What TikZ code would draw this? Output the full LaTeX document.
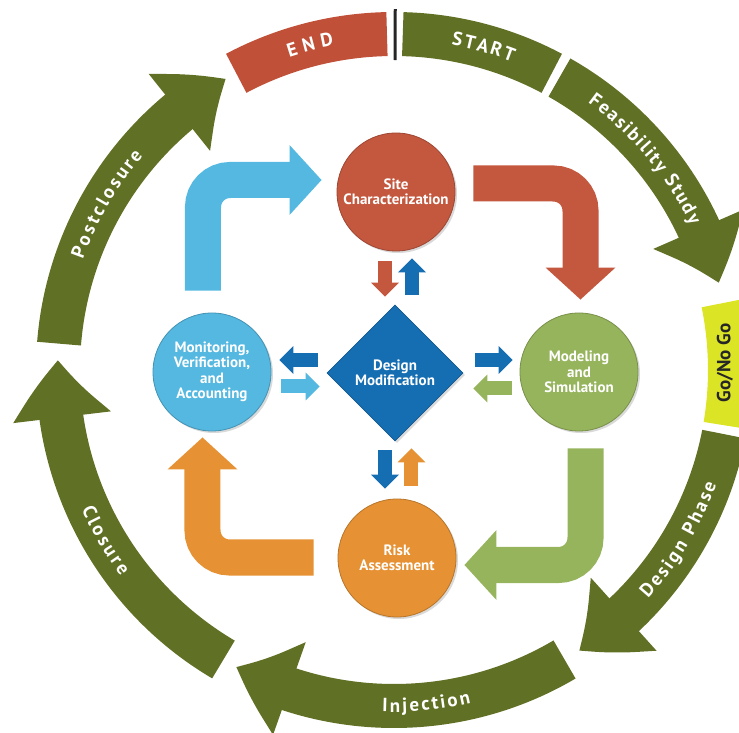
\documentclass[tikz,border=0pt]{standalone}
\usepackage{fontspec}
\setmainfont{PT Sans}
\usetikzlibrary{arrows.meta, bending, shapes.geometric, decorations.text, shadows}

\definecolor{ringgreen}{RGB}{96,112,36}
\definecolor{endred}{RGB}{192,80,56}
\definecolor{gonogoyellow}{RGB}{220,228,38}
\definecolor{sitered}{RGB}{196,88,62}
\definecolor{skyblue}{RGB}{84,184,224}
\definecolor{dmblue}{RGB}{22,110,178}
\definecolor{mossgreen}{RGB}{150,180,92}
\definecolor{riskorange}{RGB}{230,146,52}

% text along a piece of the ring: start angle, end angle, radius, text
\newcommand\ringtext[4]{%
  \path[decorate, decoration={text along path, text color=white,
    text align={fit to path},
    text={|\fontsize{19}{19}\selectfont\bfseries|#4}}]
    (#1:#3) arc[start angle=#1, end angle=#2, radius=#3];}

\begin{document}
\begin{tikzpicture}[x=1pt, y=1pt,
    stage/.style={circle, minimum size=118pt, inner sep=0pt, fill=#1, draw=#1!80!black,
      line width=0.8pt, text=white, align=center,
      font=\fontsize{15}{15.5}\selectfont\bfseries,
      drop shadow={opacity=0.3, shadow xshift=2pt, shadow yshift=-2pt}},
    ringband/.style={line width=44pt, draw=#1},
    ringarrow/.style={ringband=ringgreen, -{Triangle[length=58pt, width=94pt, bend]}},
    bigarrow/.style={line width=36pt, draw=#1, rounded corners=27pt,
      -{Triangle[length=32pt, width=68pt]}},
    smallarrow/.style={line width=14pt, draw=#1, -{Triangle[length=14pt, width=27pt]}}]

    \useasboundingbox (-394,-363) rectangle (345,370);
    \clip (-394,-363) rectangle (345,370);

    % outer cycle
    \draw[ringband=endred]       (118:336) arc[start angle=118, end angle=91.2, radius=336];
    \draw[ringband=ringgreen]    (88.5:336) arc[start angle=88.5, end angle=62, radius=336];
    \draw[ringarrow]             (60.5:336) arc[start angle=60.5, end angle=15, radius=336];
    \draw[ringband=gonogoyellow] (11.5:336) arc[start angle=11.5, end angle=-9.5, radius=336];
    \draw[ringarrow]             (-11:336) arc[start angle=-11, end angle=-56.6, radius=336];
    \draw[ringarrow]             (-59.5:336) arc[start angle=-59.5, end angle=-118, radius=336];
    \draw[ringarrow]             (-120.5:336) arc[start angle=-120.5, end angle=-181.7, radius=336];
    \draw[ringarrow]             (175.5:336) arc[start angle=175.5, end angle=120, radius=336];
    \draw[line width=3pt, black!85] (89.8:310) -- (89.8:361);

    \ringtext{108.5}{100.5}{330}{END}
    \ringtext{80}{69}{330}{START}
    \ringtext{54}{26}{330}{Feasibility Study}
    \ringtext{-42}{-19.5}{342}{Design Phase}
    \ringtext{-92}{-77}{342}{Injection}
    \ringtext{204}{217}{342}{Closure}
    \ringtext{160.5}{139.5}{330}{Postclosure}

    \node[rotate=90, text=black!85, font=\fontsize{19}{19}\selectfont\bfseries] (gonogo) at (331,7) {Go/No Go};

    % inner cycle
    \node[stage=sitered]    (site)  at (2,178)   {Site\\Characterization};
    \node[stage=skyblue]    (mvac)  at (-182,-2) {Monitoring,\\Verification,\\and\\Accounting};
    \node[stage=mossgreen]  (model) at (185,-2)  {Modeling\\and\\Simulation};
    \node[stage=riskorange] (risk)  at (3,-188)  {Risk\\Assessment};
    \node[diamond, minimum size=136pt, inner sep=0pt, fill=dmblue, draw=dmblue!80!black,
      line width=0.8pt, text=white, align=center, font=\fontsize{15}{15.5}\selectfont\bfseries,
      drop shadow={opacity=0.3, shadow xshift=2pt, shadow yshift=-2pt}] (dm) at (1,-3) {Design\\Modification};

    \draw[bigarrow=skyblue, shorten <=22pt, shorten >=15pt]
      ([xshift=-9pt]mvac.north) |- ([yshift=12pt]site.west);
    \draw[bigarrow=sitered, shorten <=18pt, shorten >=13pt]
      ([yshift=8.5pt]site.east) -| ([xshift=1.5pt]model.north);
    \draw[bigarrow=mossgreen, shorten <=17pt, shorten >=8pt]
      ([xshift=6.5pt]model.south) |- ([yshift=-7pt]risk.east);
    \draw[bigarrow=riskorange, shorten <=24pt, shorten >=6pt]
      ([yshift=0.5pt]risk.west) -| ([xshift=-9.5pt]mvac.south);

    \draw[smallarrow=sitered, shorten <=10pt, shorten >=8pt]    ([xshift=-11pt]site.south) -- ([xshift=-10pt]dm.north);
    \draw[smallarrow=dmblue, shorten <=10pt, shorten >=7pt]     ([xshift=17pt]dm.north) -- ([xshift=16pt]site.south);
    \draw[smallarrow=dmblue, shorten <=9pt, shorten >=10pt]     ([xshift=-10pt]dm.south) -- ([xshift=-12pt]risk.north);
    \draw[smallarrow=riskorange, shorten <=13pt, shorten >=7pt] ([xshift=14.5pt]risk.north) -- ([xshift=16.5pt]dm.south);
    \draw[smallarrow=dmblue, shorten <=9pt, shorten >=8pt]      ([yshift=13pt]dm.west) -- ([yshift=12pt]mvac.east);
    \draw[smallarrow=skyblue, shorten <=10pt, shorten >=7pt]    ([yshift=-14.5pt]mvac.east) -- ([yshift=-13.5pt]dm.west);
    \draw[smallarrow=dmblue, shorten <=12pt, shorten >=7pt]     ([yshift=13pt]dm.east) -- ([yshift=12pt]model.west);
    \draw[smallarrow=mossgreen, shorten <=8pt, shorten >=10pt]  ([yshift=-16.5pt]model.west) -- ([yshift=-15.5pt]dm.east);
\end{tikzpicture}
\end{document}
